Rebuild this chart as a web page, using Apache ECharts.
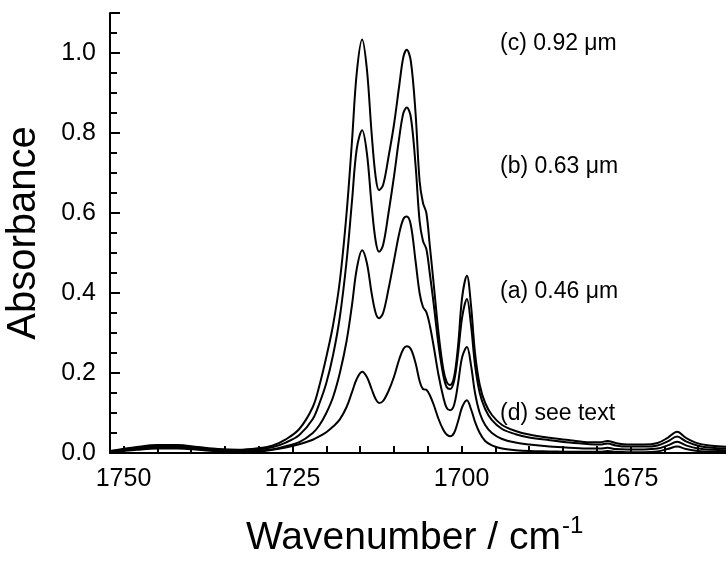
<!DOCTYPE html>
<html>
<head>
<meta charset="utf-8">
<script src="https://cdn.jsdelivr.net/npm/echarts@6/dist/echarts.min.js"></script>
<style>
  html, body { margin: 0; padding: 0; background: #fff; }
  #chart { width: 726px; height: 563px; }
</style>
</head>
<body>
<div id="chart"></div>
<script>
// wavenumber grid (cm-1)
const wavenumbers = [1752, 1748, 1745, 1742, 1739, 1736, 1733, 1730, 1728, 1726, 1724, 1722, 1721, 1720, 1719, 1718, 1717, 1716.2, 1715.5, 1714.7, 1714, 1713.3, 1712.7, 1712.2, 1711.6, 1710.8, 1710, 1709.2, 1708.6, 1708.1, 1707.5, 1706.8, 1706.2, 1705.7, 1705.2, 1704.7, 1704.1, 1703.4, 1702.7, 1702.2, 1701.7, 1701.1, 1700.5, 1699.9, 1699.2, 1698.6, 1698, 1697.3, 1696.5, 1695.5, 1694, 1692, 1690, 1687, 1684, 1681, 1679.5, 1678.4, 1677.2, 1675.5, 1673, 1671, 1669.5, 1668.1, 1666.8, 1665, 1663, 1660]

// (c) 0.92 um
const absC = [0.005, 0.015, 0.02, 0.02, 0.015, 0.01, 0.008, 0.012, 0.018, 0.034, 0.06, 0.115, 0.17, 0.24, 0.32, 0.43, 0.6, 0.78, 0.95, 1.034, 0.96, 0.8, 0.69, 0.657, 0.67, 0.74, 0.82, 0.92, 0.99, 1.008, 0.98, 0.85, 0.68, 0.625, 0.6, 0.52, 0.42, 0.3, 0.21, 0.178, 0.17, 0.19, 0.27, 0.39, 0.443, 0.37, 0.25, 0.17, 0.125, 0.095, 0.07, 0.055, 0.046, 0.038, 0.032, 0.027, 0.027, 0.03, 0.025, 0.021, 0.021, 0.025, 0.038, 0.053, 0.038, 0.024, 0.018, 0.015]
// (b) 0.63 um
const absB = [0.004, 0.013, 0.017, 0.017, 0.013, 0.008, 0.006, 0.009, 0.014, 0.026, 0.045, 0.085, 0.125, 0.175, 0.245, 0.34, 0.48, 0.63, 0.76, 0.807, 0.75, 0.62, 0.53, 0.503, 0.52, 0.6, 0.69, 0.79, 0.85, 0.864, 0.84, 0.72, 0.58, 0.53, 0.51, 0.45, 0.37, 0.27, 0.195, 0.165, 0.16, 0.18, 0.25, 0.34, 0.385, 0.32, 0.22, 0.15, 0.11, 0.082, 0.06, 0.047, 0.039, 0.032, 0.026, 0.022, 0.021, 0.024, 0.019, 0.016, 0.016, 0.019, 0.029, 0.041, 0.029, 0.018, 0.013, 0.011]
// (a) 0.46 um
const absA = [0.003, 0.011, 0.014, 0.014, 0.011, 0.006, 0.004, 0.006, 0.009, 0.017, 0.027, 0.05, 0.07, 0.1, 0.14, 0.2, 0.28, 0.37, 0.46, 0.507, 0.475, 0.4, 0.35, 0.337, 0.35, 0.41, 0.48, 0.55, 0.585, 0.591, 0.57, 0.48, 0.4, 0.365, 0.352, 0.32, 0.265, 0.195, 0.14, 0.113, 0.107, 0.12, 0.175, 0.24, 0.265, 0.22, 0.15, 0.1, 0.07, 0.05, 0.035, 0.026, 0.021, 0.016, 0.013, 0.011, 0.011, 0.013, 0.01, 0.009, 0.009, 0.011, 0.019, 0.028, 0.019, 0.011, 0.008, 0.007]
// (d) see text
const absD = [0.002, 0.008, 0.011, 0.011, 0.008, 0.004, 0.003, 0.004, 0.008, 0.014, 0.022, 0.033, 0.042, 0.052, 0.066, 0.084, 0.115, 0.152, 0.185, 0.203, 0.19, 0.16, 0.135, 0.125, 0.13, 0.155, 0.19, 0.235, 0.26, 0.267, 0.26, 0.225, 0.18, 0.16, 0.158, 0.145, 0.12, 0.085, 0.058, 0.046, 0.042, 0.05, 0.08, 0.115, 0.132, 0.11, 0.078, 0.05, 0.03, 0.019, 0.011, 0.007, 0.005, 0.004, 0.003, 0.003, 0.003, 0.005, 0.003, 0.002, 0.002, 0.004, 0.01, 0.016, 0.01, 0.005, 0.003, 0.002]

const labels = ['(c) 0.92 μm', '(b) 0.63 μm', '(a) 0.46 μm', '(d) see text']
const labelMids = [45, 168, 293, 415]

const font = 'Liberation Sans, Arial, sans-serif'

const toPairs = (ys) => wavenumbers.map((w, i) => [w, ys[i]])

const lineSeries = (name, ys) => ({
  name: name,
  type: 'line',
  data: toPairs(ys),
  smooth: 0.35,
  symbol: 'none',
  lineStyle: { color: '#000', width: 2 }
})

const chart = echarts.init(document.getElementById('chart'))

chart.setOption({
  animation: false,
  backgroundColor: '#fff',
  // axis runs past the right edge of the picture, as in the original
  grid: { left: 110, right: -73.5, top: 13, bottom: 110, outerBoundsMode: 'none' },
  xAxis: {
    type: 'value',
    inverse: true,
    min: 1650,
    max: 1752,
    interval: 25,
    axisLine: { lineStyle: { color: '#000', width: 2 } },
    axisTick: { inside: true, length: 7, lineStyle: { color: '#000', width: 2 } },
    minorTick: { show: true, splitNumber: 5, length: 7, lineStyle: { color: '#000', width: 2 } },
    axisLabel: {
      showMaxLabel: false,
      showMinLabel: false,
      margin: 14,
      fontFamily: font,
      fontSize: 25,
      color: '#000',
      formatter: (v) => String(v)
    },
    splitLine: { show: false }
  },
  yAxis: {
    type: 'value',
    min: 0,
    max: 1.1,
    interval: 0.2,
    name: 'Absorbance',
    nameLocation: 'middle',
    nameGap: 66,
    nameTextStyle: { fontFamily: font, fontSize: 40, color: '#000' },
    axisLine: { lineStyle: { color: '#000', width: 2 } },
    axisTick: { inside: true, length: 10, lineStyle: { color: '#000', width: 2 } },
    minorTick: { show: true, splitNumber: 4, length: 7, lineStyle: { color: '#000', width: 2 } },
    axisLabel: {
      showMaxLabel: false,
      margin: 14,
      fontFamily: font,
      fontSize: 25,
      color: '#000',
      formatter: (v) => v.toFixed(1)
    },
    splitLine: { show: false }
  },
  graphic: [
    {
      type: 'text',
      left: 246,
      top: 514,
      style: {
        text: 'Wavenumber / cm{sup|-1}',
        fontFamily: font,
        fontSize: 39,
        fill: '#000',
        rich: {
          sup: { fontFamily: font, fontSize: 24, verticalAlign: 'top', padding: [0, 0, 24, 1] }
        }
      }
    }
  ].concat(labels.map((t, i) => ({
    type: 'text',
    left: 500,
    top: labelMids[i] - 13,
    style: { text: t, fontFamily: font, fontSize: 23, fill: '#000' }
  }))),
  series: [
    lineSeries('c', absC),
    lineSeries('b', absB),
    lineSeries('a', absA),
    lineSeries('d', absD)
  ]
})
</script>
</body>
</html>
